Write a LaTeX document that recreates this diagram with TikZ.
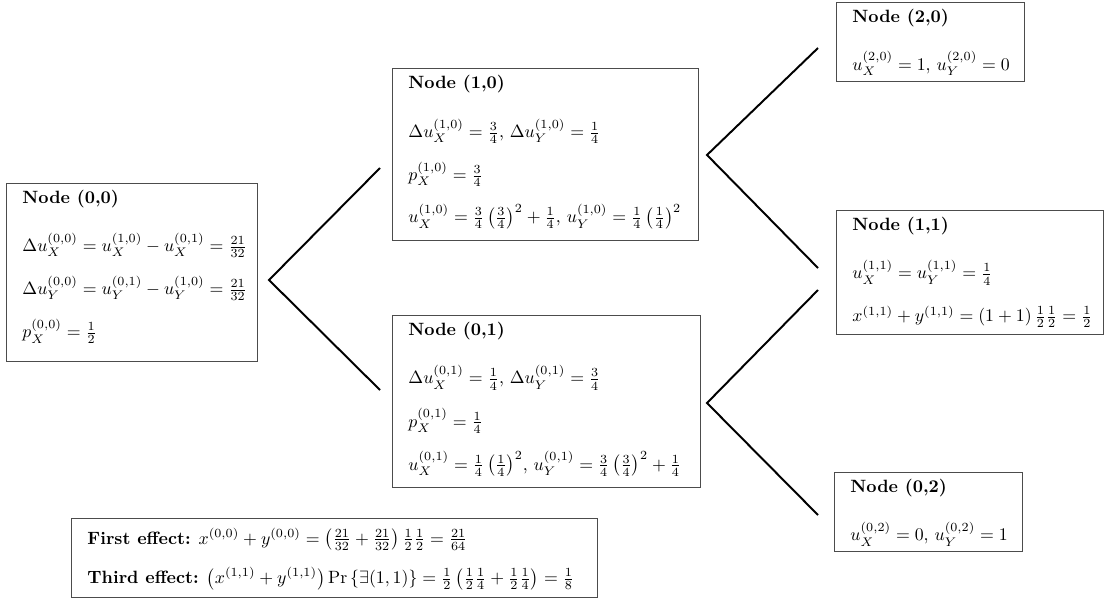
\documentclass[tikz,border=0pt]{standalone}
\usepackage{amsmath}
\newcommand{\boxtext}[4][11.5pt]{\begin{minipage}[c][#3][t]{#2}\raggedright\leftskip=9pt\relax\lineskiplimit=-\maxdimen\relax\rule{0pt}{#1}#4\end{minipage}}
\begin{document}
\begin{tikzpicture}[x=0.5618pt,y=-0.5618pt,
  box/.style={draw=black!70, line width=0.5pt, inner sep=0pt, anchor=north west},
  link/.style={line width=1.1pt}]
\useasboundingbox (0,0) rectangle (1104,601);

\node[box] (n00) at (6,183) {\boxtext{141pt}{100pt}{%
\textbf{Node (0,0)}\\[14.8pt]
$\Delta u_X^{(0,0)} = u_X^{(1,0)} - u_X^{(0,1)} = \frac{21}{32}$\\[12pt]
$\Delta u_Y^{(0,0)} = u_Y^{(0,1)} - u_Y^{(1,0)} = \frac{21}{32}$\\[12.4pt]
$p_X^{(0,0)} = \frac{1}{2}$}};

\node[box] (n10) at (392,68) {\boxtext{171.9pt}{96.6pt}{%
\textbf{Node (1,0)}\\[15.2pt]
$\Delta u_X^{(1,0)} = \frac{3}{4}$, $\Delta u_Y^{(1,0)} = \frac{1}{4}$\\[12.4pt]
$p_X^{(1,0)} = \frac{3}{4}$\\[11.6pt]
$u_X^{(1,0)} = \frac{3}{4}\left(\frac{3}{4}\right)^2 + \frac{1}{4}$, $u_Y^{(1,0)} = \frac{1}{4}\left(\frac{1}{4}\right)^2$}};

\node[box] (n01) at (392,315) {\boxtext{173pt}{96.6pt}{%
\textbf{Node (0,1)}\\[15pt]
$\Delta u_X^{(0,1)} = \frac{1}{4}$, $\Delta u_Y^{(0,1)} = \frac{3}{4}$\\[12.2pt]
$p_X^{(0,1)} = \frac{1}{4}$\\[12.2pt]
$u_X^{(0,1)} = \frac{1}{4}\left(\frac{1}{4}\right)^2$, $u_Y^{(0,1)} = \frac{3}{4}\left(\frac{3}{4}\right)^2 + \frac{1}{4}$}};

\node[box] (n20) at (836,2) {\boxtext{105.6pt}{44.4pt}{%
\textbf{Node (2,0)}\\[14.5pt]
$u_X^{(2,0)} = 1$, $u_Y^{(2,0)} = 0$}};

\node[box] (n11) at (836,210) {\boxtext{150pt}{69.7pt}{%
\textbf{Node (1,1)}\\[15pt]
$u_X^{(1,1)} = u_Y^{(1,1)} = \frac{1}{4}$\\[12pt]
$x^{(1,1)} + y^{(1,1)} = (1+1)\,\frac{1}{2}\frac{1}{2} = \frac{1}{2}$}};

\node[box] (n02) at (834,472) {\boxtext{105.6pt}{44.4pt}{%
\textbf{Node (0,2)}\\[15pt]
$u_X^{(0,2)} = 0$, $u_Y^{(0,2)} = 1$}};

\node[box] (eff) at (71,518) {\boxtext[14.5pt]{295.5pt}{44.4pt}{%
\textbf{First effect:} $x^{(0,0)} + y^{(0,0)} = \left(\frac{21}{32} + \frac{21}{32}\right)\frac{1}{2}\frac{1}{2} = \frac{21}{64}$\\[10pt]
\textbf{Third effect:} $\left(x^{(1,1)} + y^{(1,1)}\right)\Pr\left\{\exists(1,1)\right\} = \frac{1}{2}\left(\frac{1}{2}\frac{1}{4} + \frac{1}{2}\frac{1}{4}\right) = \frac{1}{8}$}};

\coordinate (a0) at (269,280);
\coordinate (a0u) at (380,168);
\coordinate (a0d) at (380,390);
\coordinate (a1) at (707,155);
\coordinate (a1u) at (818,48);
\coordinate (a1d) at (818,268);
\coordinate (a2) at (707,403);
\coordinate (a2u) at (818,290);
\coordinate (a2d) at (818,515);

\draw[link] (a0u) -- (a0) -- (a0d);
\draw[link] (a1u) -- (a1) -- (a1d);
\draw[link] (a2u) -- (a2) -- (a2d);
\end{tikzpicture}
\end{document}
